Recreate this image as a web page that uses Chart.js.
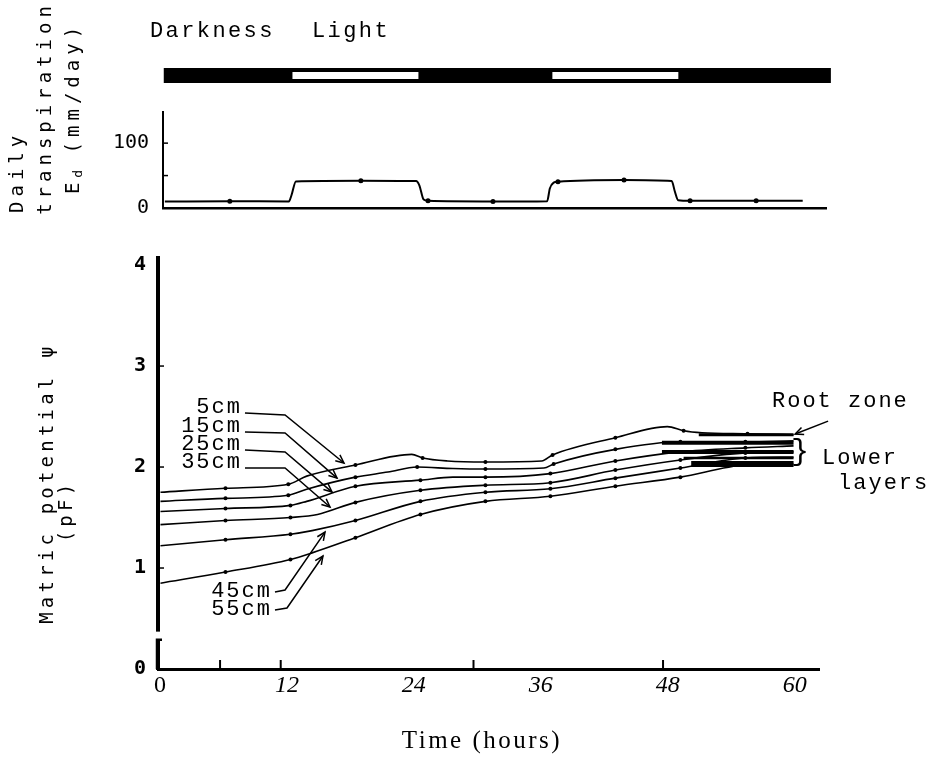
<!DOCTYPE html>
<html>
<head>
<meta charset="utf-8">
<script src="https://cdn.jsdelivr.net/npm/chart.js@4.4.1/dist/chart.umd.min.js"></script>
<style>
  body { margin: 0; background: #fff; }
  #wrap { position: relative; width: 931px; height: 763px; overflow: hidden; }
  canvas { position: absolute; left: 0; top: 0; }
  .t { position: absolute; color: #000; white-space: nowrap; }
  .mono { font-family: "Liberation Mono", monospace; font-size: 22px; letter-spacing: 2.4px; line-height: 26px; }
  .ytitle { font-family: "DejaVu Sans Mono", monospace; font-size: 19px; letter-spacing: 5px; line-height: 28px; transform: rotate(-90deg); text-align: center; }
  .ytitle sub { font-size: 13px; vertical-align: -3px; line-height: 0; letter-spacing: 0; }
</style>
</head>
<body>
<div id="wrap">
  <canvas id="top" width="931" height="763"></canvas>
  <canvas id="bottom" width="931" height="763"></canvas>

  <div class="t mono" style="left:150px; top:19px;">Darkness</div>
  <div class="t mono" style="left:312px; top:19px;">Light</div>

  <div class="t ytitle" style="left:-64px; top:66px; width:216px; height:84px;">
    <div style="text-align:left; padding-left:3px;">Daily</div>
    <div>transpiration</div>
    <div>E<sub>d</sub> (mm/day)</div>
  </div>
  <div class="t ytitle" style="left:-104px; top:469px; width:300px; height:28px; letter-spacing:4.2px;">Matric potential &psi;</div>
  <div class="t ytitle" style="left:15px; top:497px; width:100px; height:28px; letter-spacing:4.2px;">(pF)</div>

  <div class="t" style="left:382px; top:725px; width:200px; text-align:center; font-family:'Liberation Serif', serif; font-size:25px; letter-spacing:2.5px; line-height:30px;">Time (hours)</div>
</div>

<script>
// light / dark periods (hours)
const lightStart = [12, 36];
const lightEnd = [24, 48];
const darkSpan = [0.3, 61.9];

// daily transpiration Ed (mm/day)
const etHours = [0.4, 6.4, 11.85, 12.1, 12.5, 18.5, 23.6, 23.9, 24.3, 24.7, 30.7, 35.7, 35.95, 36.3, 36.7, 42.8, 47.2, 47.5, 47.8, 48.9, 55.0, 59.3];
const etValues = [10, 10.5, 10, 20, 41, 42, 41.5, 35, 13, 11, 10, 10.5, 30, 39, 40.5, 43, 41.5, 25, 12, 11, 11, 11];
const etDotHours = [6.4, 18.5, 24.7, 30.7, 36.7, 42.8, 48.9, 55.0];
const etDotValues = [10.5, 42, 11, 10, 40.5, 43, 11, 11];
const etTickValues = [0, 50, 100];

// matric potential (pF) per depth
const depthLabels = ['5cm', '15cm', '25cm', '35cm', '45cm', '55cm'];
const hours5 = [0, 6, 11.8, 13.5, 18, 23.2, 24.2, 26.5, 30, 35.2, 36.2, 42, 46.8, 48.3, 50, 54.2, 58.45];
const psi5 = [1.75, 1.79, 1.83, 1.91, 2.02, 2.125, 2.09, 2.06, 2.05, 2.06, 2.12, 2.29, 2.40, 2.36, 2.34, 2.33, 2.32];
const hours15 = [0, 6, 11.8, 13.5, 18, 21, 23.7, 27, 30, 35.4, 36.3, 42, 48, 54, 58.45];
const psi15 = [1.66, 1.69, 1.72, 1.78, 1.90, 1.95, 2.0, 1.985, 1.98, 1.99, 2.03, 2.175, 2.25, 2.25, 2.26];
const hours25 = [0, 6, 12, 13.5, 18, 24, 27, 30, 36, 42, 48, 54, 58.45];
const psi25 = [1.56, 1.59, 1.62, 1.66, 1.81, 1.87, 1.90, 1.90, 1.935, 2.06, 2.15, 2.19, 2.21];
const hours35 = [0, 6, 12, 14.5, 18, 24, 30, 36, 42, 48, 54, 58.45];
const psi35 = [1.43, 1.47, 1.50, 1.53, 1.65, 1.77, 1.82, 1.845, 1.97, 2.07, 2.14, 2.15];
const hours45 = [0, 6, 12, 14, 18, 24, 30, 36, 42, 48, 54, 58.45];
const psi45 = [1.22, 1.28, 1.335, 1.37, 1.47, 1.66, 1.75, 1.785, 1.89, 1.99, 2.09, 2.10];
const hours55 = [0, 6, 12, 14, 18, 24, 30, 36, 42, 48, 54, 58.45];
const psi55 = [0.85, 0.96, 1.085, 1.15, 1.30, 1.53, 1.66, 1.71, 1.81, 1.90, 2.02, 2.03];

// hand-inked strokes over the lower layers at the end of the run
const inkPsi = [2.32, 2.24, 2.15, 2.09, 2.03];
const inkFrom = [49.7, 46.3, 46.3, 48.3, 49.0];
const inkTo = [58.45, 58.45, 58.45, 58.45, 58.45];

const xTickMarks = [5.5, 11.1, 28.9, 46.4];
const psiTicks = [1, 2, 3];
const etTicks = [50, 100];

const seriesHours = [hours5, hours15, hours25, hours35, hours45, hours55];
const seriesPsi = [psi5, psi15, psi25, psi35, psi45, psi55];

Chart.defaults.color = '#000';
Chart.defaults.font.family = '"DejaVu Sans Mono", monospace';

function pts(xs, ys) {
  return xs.map((x, i) => ({ x: x, y: ys[i] }));
}
function isReading(h) {
  // readings were taken every 6 hours
  return h > 1 && h < 58 && Math.abs(h - Math.round(h / 6) * 6) < 0.45;
}
function arrowHead(ctx, x0, y0, x1, y1) {
  const a = Math.atan2(y1 - y0, x1 - x0);
  const len = 9, spread = 0.42;
  ctx.beginPath();
  ctx.moveTo(x1 - len * Math.cos(a - spread), y1 - len * Math.sin(a - spread));
  ctx.lineTo(x1, y1);
  ctx.lineTo(x1 - len * Math.cos(a + spread), y1 - len * Math.sin(a + spread));
  ctx.stroke();
}

// ---------- top panel ----------
const topDecor = {
  id: 'topDecor',
  afterDraw(chart) {
    const { ctx, chartArea, scales } = chart;
    const x = scales.x, y = scales.y;
    ctx.save();
    // darkness / light bar
    const barTop = chartArea.top - 44, barH = 15;
    ctx.fillStyle = '#000';
    ctx.fillRect(x.getPixelForValue(darkSpan[0]), barTop, x.getPixelForValue(darkSpan[1]) - x.getPixelForValue(darkSpan[0]), barH);
    ctx.fillStyle = '#fff';
    lightStart.forEach((s, i) => {
      const a = x.getPixelForValue(s) + 2, b = x.getPixelForValue(lightEnd[i]) - 2;
      ctx.fillRect(a, barTop + 4, b - a, barH - 8);
    });
    // inner ticks
    ctx.strokeStyle = '#000';
    ctx.lineWidth = 1.5;
    etTicks.forEach(v => {
      const py = y.getPixelForValue(v);
      ctx.beginPath();
      ctx.moveTo(chartArea.left, py);
      ctx.lineTo(chartArea.left + 5, py);
      ctx.stroke();
    });
    ctx.restore();
  }
};

new Chart(document.getElementById('top'), {
  type: 'line',
  data: {
    datasets: [
      {
        data: pts(etHours, etValues),
        borderColor: '#000',
        borderWidth: 2,
        pointRadius: 0,
        cubicInterpolationMode: 'monotone'
      },
      {
        data: pts(etDotHours, etDotValues),
        showLine: false,
        pointRadius: 2.5,
        pointBorderWidth: 0,
        pointBackgroundColor: '#000'
      }
    ]
  },
  options: {
    responsive: false,
    animation: false,
    layout: { padding: { left: 103, right: 105, top: 112, bottom: 555 } },
    plugins: { legend: { display: false }, tooltip: { enabled: false } },
    scales: {
      x: {
        type: 'linear', min: 0.23, max: 61.45,
        afterFit: s => { s.height = 0; },
        grid: { display: false },
        border: { color: '#000', width: 2.5 },
        ticks: { display: false }
      },
      y: {
        min: 0, max: 148,
        afterFit: s => { s.width = 60; },
        afterBuildTicks: s => { s.ticks = etTickValues.map(v => ({ value: v })); },
        grid: { display: false, drawTicks: false },
        border: { color: '#000', width: 2 },
        ticks: {
          padding: 14,
          font: { size: 20 },
          callback: v => (v === 50 ? '' : v)
        }
      }
    }
  },
  plugins: [topDecor]
});

// ---------- bottom panel ----------
const leaders = [
  { text: '5cm',  from: [7.8, 2.535],  elbow: [11.5, 2.515], tip: [16.94, 2.04], dy: 0 },
  { text: '15cm', from: [7.8, 2.347],  elbow: [11.5, 2.337], tip: [16.3, 1.89],  dy: 0 },
  { text: '25cm', from: [7.8, 2.168],  elbow: [11.5, 2.149], tip: [15.84, 1.752], dy: 0 },
  { text: '35cm', from: [7.8, 1.99],   elbow: [11.5, 1.99],  tip: [15.65, 1.604], dy: 0 },
  { text: '45cm', from: [10.57, 0.762], elbow: [11.5, 0.782], tip: [15.19, 1.356], dy: 5 },
  { text: '55cm', from: [10.57, 0.584], elbow: [11.68, 0.604], tip: [15.0, 1.119], dy: 5 }
];

const bottomDecor = {
  id: 'bottomDecor',
  afterDraw(chart) {
    const { ctx, chartArea, scales } = chart;
    const x = scales.x, y = scales.y;
    const px = v => x.getPixelForValue(v), py = v => y.getPixelForValue(v);
    ctx.save();
    ctx.strokeStyle = '#000';
    ctx.fillStyle = '#000';

    // inner ticks on both axes
    ctx.lineWidth = 2;
    xTickMarks.forEach(h => {
      ctx.beginPath();
      ctx.moveTo(px(h), chartArea.bottom);
      ctx.lineTo(px(h), chartArea.bottom - 9);
      ctx.stroke();
    });
    ctx.lineWidth = 1.5;
    psiTicks.forEach(v => {
      ctx.beginPath();
      ctx.moveTo(chartArea.left, py(v));
      ctx.lineTo(chartArea.left + 6, py(v));
      ctx.stroke();
    });

    // break in the potential axis
    ctx.fillStyle = '#fff';
    ctx.fillRect(chartArea.left - 4, py(0.37), 8, py(0.29) - py(0.37));
    ctx.fillStyle = '#000';
    ctx.lineWidth = 2.5;
    ctx.beginPath();
    ctx.moveTo(chartArea.left + 4, py(0.29));
    ctx.lineTo(chartArea.left - 1, py(0.29));
    ctx.lineTo(chartArea.left - 1, chartArea.bottom);
    ctx.stroke();

    // depth labels with leader arrows
    ctx.font = '22px "Liberation Mono", monospace';
    ctx.letterSpacing = '2px';
    ctx.textAlign = 'right';
    ctx.textBaseline = 'alphabetic';
    ctx.lineWidth = 1.5;
    leaders.forEach(l => {
      const x0 = px(l.from[0]), y0 = py(l.from[1]);
      const x1 = px(l.elbow[0]), y1 = py(l.elbow[1]);
      const x2 = px(l.tip[0]), y2 = py(l.tip[1]);
      ctx.fillText(l.text, x0 - 3, y0 + l.dy);
      ctx.beginPath();
      ctx.moveTo(x0, y0);
      ctx.lineTo(x1, y1);
      ctx.lineTo(x2, y2);
      ctx.stroke();
      arrowHead(ctx, x1, y1, x2, y2);
    });

    // root zone / lower layers
    ctx.textAlign = 'left';
    ctx.fillText('Root zone', px(56.46), py(2.594));
    ctx.beginPath();
    ctx.moveTo(px(61.64), py(2.455));
    ctx.lineTo(px(58.6), py(2.327));
    ctx.stroke();
    arrowHead(ctx, px(61.64), py(2.455), px(58.6), py(2.327));
    ctx.textBaseline = 'middle';
    ctx.letterSpacing = '0px';
    ctx.font = '30px "Liberation Mono", monospace';
    ctx.textAlign = 'center';
    ctx.fillText('}', px(59.05), py(2.149));
    ctx.font = '22px "Liberation Mono", monospace';
    ctx.letterSpacing = '2px';
    ctx.textAlign = 'left';
    ctx.textBaseline = 'alphabetic';
    ctx.fillText('Lower', px(61.08), py(2.03));
    ctx.fillText('layers', px(62.56), py(1.78));
    ctx.restore();
  }
};

const inkWidths = [3, 4, 4, 2.5, 6];

const curveSets = seriesHours.map((hs, i) => ({
  label: depthLabels[i],
  xAxisID: 'x',
  data: pts(hs, seriesPsi[i]),
  borderColor: '#000',
  borderWidth: 1.6,
  pointRadius: hs.map(h => (isReading(h) ? 2 : 0)),
  pointBorderWidth: 0,
  pointBackgroundColor: '#000',
  cubicInterpolationMode: 'monotone'
}));
const inkSets = inkPsi.map((v, i) => ({
  xAxisID: 'x',
  data: [{ x: inkFrom[i], y: v }, { x: inkTo[i], y: v }],
  borderColor: '#000',
  borderWidth: inkWidths[i],
  borderCapStyle: 'butt',
  pointRadius: 0
}));

new Chart(document.getElementById('bottom'), {
  type: 'line',
  data: { datasets: curveSets.concat(inkSets) },
  options: {
    responsive: false,
    animation: false,
    layout: { padding: { left: 98, right: 112, top: 258, bottom: 0 } },
    plugins: { legend: { display: false }, tooltip: { enabled: false } },
    scales: {
      x: { type: 'linear', display: false, min: -0.23, max: 60.8 },
      xt: {
        type: 'linear', position: 'bottom', min: -0.19, max: 62.3,
        afterFit: s => { s.height = 94; },
        grid: { display: false, drawTicks: false },
        border: { color: '#000', width: 3 },
        ticks: {
          stepSize: 12, includeBounds: false, autoSkip: false, maxRotation: 0, padding: 2,
          font: ctx => ({
            family: '"Liberation Serif", serif', size: 24,
            style: ctx.tick && ctx.tick.value === 0 ? 'normal' : 'italic'
          })
        }
      },
      y: {
        min: 0, max: 4.07,
        afterFit: s => { s.width = 60; },
        grid: { display: false, drawTicks: false },
        border: { color: '#000', width: 4 },
        ticks: { stepSize: 1, includeBounds: false, padding: 12, font: { size: 20, weight: 'bold' } }
      }
    }
  },
  plugins: [bottomDecor]
});
</script>
</body>
</html>
